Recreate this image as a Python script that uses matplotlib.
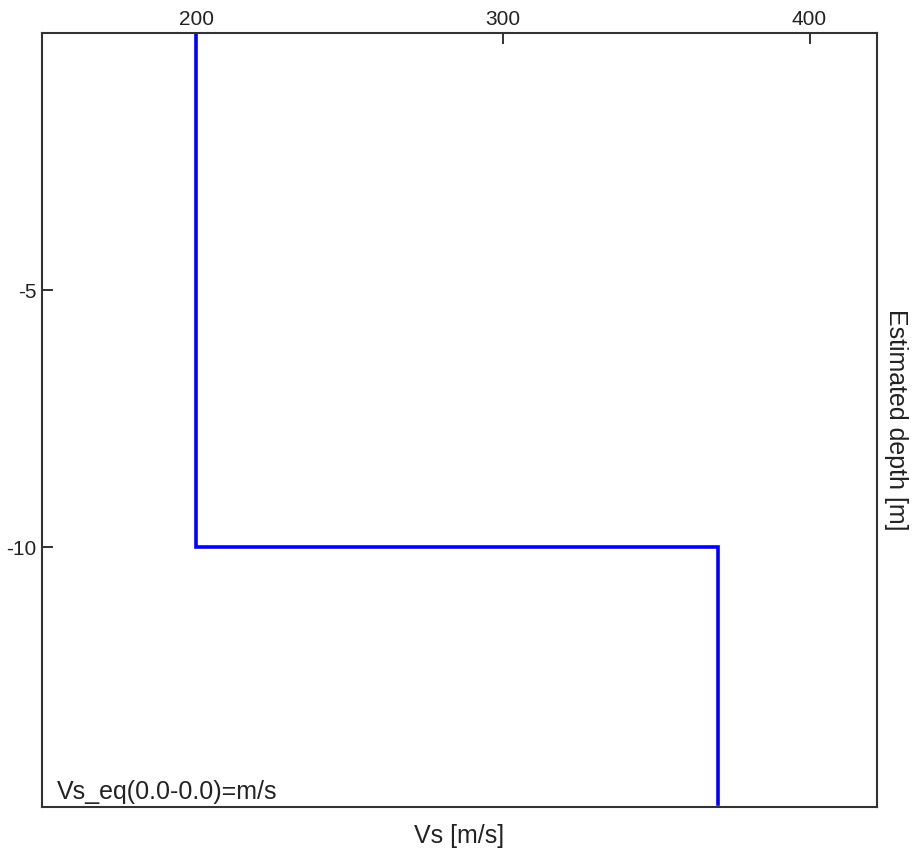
import matplotlib
matplotlib.use("Agg")
import matplotlib.pyplot as plt

# Vs profile (step)
vs = [200, 200, 370, 370]
depth = [0, -10, -10, -15]
xticks = [200, 300, 400]
yticks = [-5, -10]
annotation = "Vs_eq(0.0-0.0)=m/s"

plt.rcParams['font.family'] = ['Liberation Sans', 'DejaVu Sans']

fig = plt.figure(figsize=(9.13, 8.59), dpi=100)
ax = fig.add_axes([42/913, 1-807/859, (877-42)/913, (807-33)/859])
ax.plot(vs, depth, color='#0000ff', lw=2.6, solid_joinstyle='miter')
ax.set_xlim(149.7, 422.0)
ax.set_ylim(-15.05, 0)
ax.xaxis.tick_top()
ax.set_xticks(xticks)
ax.set_xticklabels([str(t) for t in xticks])
ax.set_yticks(yticks)
ax.set_yticklabels([str(t) for t in yticks])
ax.tick_params(axis='x', direction='in', length=8, width=1.3, labelsize=15, pad=3, colors='#222222')
ax.tick_params(axis='y', direction='in', length=8, width=1.3, labelsize=15, pad=4, colors='#222222')
for s in ax.spines.values():
    s.set_linewidth(1.5)
    s.set_color('#333333')
ax.set_xlabel('Vs [m/s]', fontsize=18, labelpad=12, color='#222222')
ax.xaxis.set_label_position('bottom')
ax.yaxis.set_label_position('right')
ax.set_ylabel('Estimated depth [m]', fontsize=18, rotation=-90, labelpad=22, color='#222222')
ax.text(0.018, 0.004, annotation, transform=ax.transAxes, fontsize=18, ha='left', va='bottom', color='#222222')
fig.savefig('out.png', dpi=100)
